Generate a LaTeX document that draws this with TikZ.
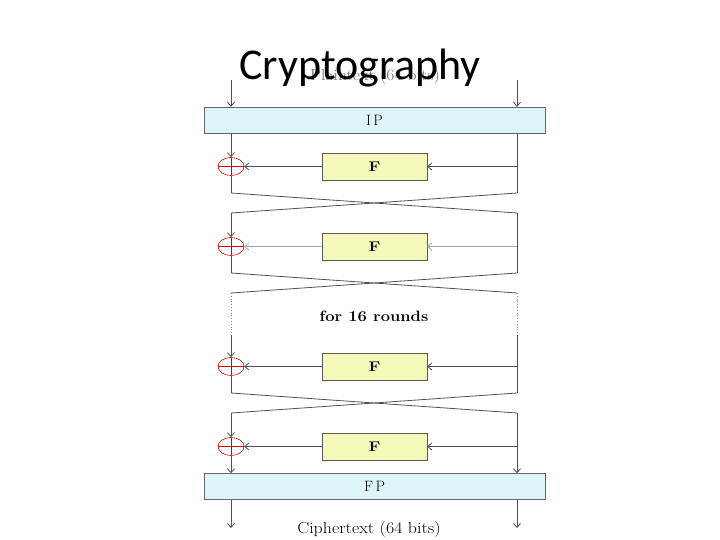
\documentclass[tikz,border=0pt]{standalone}
\usepackage{fontspec}
\usepackage{graphicx}
\newfontfamily\titlefont{Carlito}
\usetikzlibrary{arrows.meta,shapes.geometric}
\definecolor{ipcol}{RGB}{221,244,249}
\definecolor{fcol}{RGB}{244,248,184}
\definecolor{wirecol}{RGB}{80,80,80}
\begin{document}
\begin{tikzpicture}[x=1pt,y=-1pt,
  wire/.style={draw=wirecol,line width=0.8pt},
  arr/.style={wire,-{Straight Barb[length=4pt,width=7pt]}},
  dotwire/.style={draw=gray,line width=0.8pt,dotted},
  perm/.style={draw=gray!80!black,fill=ipcol,minimum width=341pt,minimum height=26pt,inner sep=0pt,font=\fontsize{15}{17}\selectfont},
  fbox/.style={draw=gray!70!black,fill=fcol,minimum width=105pt,minimum height=27pt,inner sep=0pt,font=\fontsize{14}{16}\selectfont\bfseries},
  xor/.style={ellipse,draw=red!85!black,line width=0.6pt,minimum width=26pt,minimum height=18pt,inner sep=0pt,
    path picture={\draw[red!85!black,line width=0.5pt] (path picture bounding box.north) -- (path picture bounding box.south)
      (path picture bounding box.west) -- (path picture bounding box.east);}},
  lbl/.style={inner sep=0pt}
]
\useasboundingbox (0,0) rectangle (720,540);

% faint input label and title
\node[lbl,text=gray!80!black,font=\fontsize{16}{18}\selectfont] (pt) at (375,77) {\scalebox{1.1}[1]{Plaintext (64 bits)}};
\node[lbl,font=\titlefont\fontsize{44}{50}\selectfont] (title) at (360,68) {Cryptography};

% permutations
\node[perm] (ip) at (374.5,120) {I\,P};
\node[perm] (fp) at (374.5,486.5) {F\,P};

% F boxes
\node[fbox] (f1) at (374.5,166.5) {\scalebox{1.2}[1]{F}};
\node[fbox] (f2) at (374.5,246.5) {\scalebox{1.2}[1]{F}};
\node[fbox] (f3) at (374.5,366.5) {\scalebox{1.2}[1]{F}};
\node[fbox] (f4) at (374.5,446.5) {\scalebox{1.2}[1]{F}};

% XORs
\node[xor] (x1) at (231,166.5) {};
\node[xor] (x2) at (231,246.5) {};
\node[xor] (x3) at (231,366.5) {};
\node[xor] (x4) at (231,446.5) {};

% coordinates
\coordinate (inL) at (231,80);
\coordinate (inR) at (517,80);
\coordinate (L1t) at (231,133); \coordinate (R1t) at (517,133);
\coordinate (L1b) at (231,193); \coordinate (R1b) at (517,193);
\coordinate (L2t) at (231,213); \coordinate (R2t) at (517,213);
\coordinate (L2b) at (231,273); \coordinate (R2b) at (517,273);
\coordinate (L3t) at (231,293); \coordinate (R3t) at (517,293);
\coordinate (L3d) at (231,335); \coordinate (R3d) at (517,335);
\coordinate (L3b) at (231,393); \coordinate (R3b) at (517,393);
\coordinate (L4t) at (231,413); \coordinate (R4t) at (517,413);
\coordinate (R1m) at (517,166.5); \coordinate (R2m) at (517,246.5);
\coordinate (R3m) at (517,366.5); \coordinate (R4m) at (517,446.5);
\coordinate (outL) at (231,528); \coordinate (outR) at (517,528);

% input arrows
\draw[arr] (inL) -- (inL |- ip.north);
\draw[arr] (inR) -- (inR |- ip.north);

% round 1
\draw[arr] (L1t) -- (x1.north);
\draw[wire] (x1.south) -- (L1b);
\draw[wire] (R1t) -- (R1b);
\draw[arr] (R1m) -- (f1.east);
\draw[arr] (f1.west) -- (x1.east);
\draw[wire] (L1b) -- (R2t);
\draw[wire] (R1b) -- (L2t);

% round 2
\draw[arr] (L2t) -- (x2.north);
\draw[wire] (x2.south) -- (L2b);
\draw[wire] (R2t) -- (R2b);
\draw[arr,draw=gray!70] (R2m) -- (f2.east);
\draw[arr,draw=gray!70] (f2.west) -- (x2.east);
\draw[wire] (L2b) -- (R3t);
\draw[wire] (R2b) -- (L3t);

% round 3 (for 16 rounds)
\draw[dotwire] (L3t) -- (L3d);
\draw[dotwire] (R3t) -- (R3d);
\node[lbl,font=\fontsize{15}{17}\selectfont\bfseries] (rounds) at (374,316) {\scalebox{1.1}[1]{for 16 rounds}};
\draw[arr] (L3d) -- (x3.north);
\draw[wire] (x3.south) -- (L3b);
\draw[wire] (R3d) -- (R3b);
\draw[arr] (R3m) -- (f3.east);
\draw[arr] (f3.west) -- (x3.east);
\draw[wire] (L3b) -- (R4t);
\draw[wire] (R3b) -- (L4t);

% round 4
\draw[arr] (L4t) -- (x4.north);
\draw[arr] (x4.south) -- (x4.south |- fp.north);
\draw[arr] (R4t) -- (R4t |- fp.north);
\draw[arr] (R4m) -- (f4.east);
\draw[arr] (f4.west) -- (x4.east);

% output
\draw[arr] (outL |- fp.south) -- (outL);
\draw[arr] (outR |- fp.south) -- (outR);
\node[lbl,font=\fontsize{16}{18}\selectfont] (ct) at (369,530) {\scalebox{1.12}[1]{Ciphertext (64 bits)}};
\end{tikzpicture}
\end{document}
